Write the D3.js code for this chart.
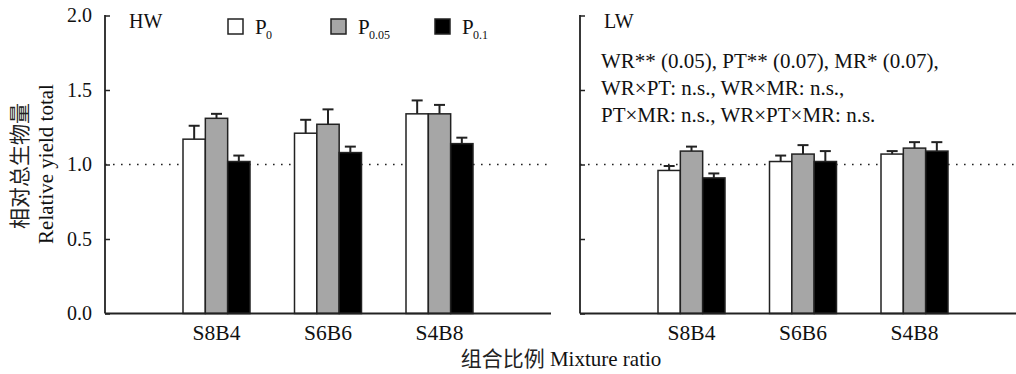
<!DOCTYPE html>
<html>
<head>
<meta charset="utf-8">
<script src="https://cdn.jsdelivr.net/npm/d3@7"></script>
<style>
  body { margin: 0; background: #fff; }
  svg { font-family: "Liberation Serif", "DejaVu Serif", serif; }
  text { font-family: "Liberation Serif", "DejaVu Serif", serif; fill: #111; }
  .cjk { font-family: "Noto Sans CJK SC", sans-serif; fill: #222; }
</style>
</head>
<body>
<div id="chart"></div>
<script>
// data
var categories = ["S8B4", "S6B6", "S4B8"];
var series = ["P0", "P0.05", "P0.1"];
var series_sub = ["0", "0.05", "0.1"];
var series_fill = ["#ffffff", "#a6a6a6", "#000000"];

// HW panel: means and upper error (one row per series)
var hw_p0 = [1.17, 1.21, 1.34],   hw_p0_err = [0.09, 0.09, 0.09];
var hw_p05 = [1.31, 1.27, 1.34],  hw_p05_err = [0.03, 0.10, 0.06];
var hw_p1 = [1.02, 1.08, 1.14],   hw_p1_err = [0.04, 0.04, 0.04];

// LW panel
var lw_p0 = [0.96, 1.02, 1.07],   lw_p0_err = [0.03, 0.04, 0.02];
var lw_p05 = [1.09, 1.07, 1.11],  lw_p05_err = [0.03, 0.06, 0.04];
var lw_p1 = [0.91, 1.02, 1.09],   lw_p1_err = [0.03, 0.07, 0.06];

var y_ticks = [0.0, 0.5, 1.0, 1.5, 2.0];
var stats_lines = [
  "WR** (0.05), PT** (0.07), MR* (0.07),",
  "WR\u00d7PT: n.s., WR\u00d7MR: n.s.,",
  "PT\u00d7MR: n.s., WR\u00d7PT\u00d7MR: n.s."
];

function to_rows(means, errs) {
  // flatten into one row per bar
  var rows = [];
  categories.forEach(function(c, i) {
    series.forEach(function(s, j) {
      rows.push({cat: c, ser: s, idx: j, val: means[j][i], err: errs[j][i]});
    });
  });
  return rows;
}

var W = 1016, H = 374;
var top_y = 15.5, bottom_y = 313.5, panel_w = 446;
var serif = "'Liberation Serif', 'DejaVu Serif', serif";

var svg = d3.select("#chart").append("svg")
  .attr("width", W).attr("height", H);

var y_scale = d3.scaleLinear().domain([0, 2]).range([bottom_y, top_y]);

function draw_panel(x0, rows, label, show_labels, dot_end) {
  var g = svg.append("g").attr("transform", "translate(" + x0 + ",0)");

  var x_scale = d3.scalePoint().domain(categories).range([0, panel_w]).padding(1);
  var x_inner = d3.scaleBand().domain(series).range([-33.5, 33.5]);

  // reference line at 1.0
  g.append("line")
    .attr("x1", 0).attr("x2", dot_end - x0)
    .attr("y1", y_scale(1)).attr("y2", y_scale(1))
    .attr("stroke", "#222").attr("stroke-width", 1.6)
    .attr("stroke-dasharray", "1.6,6.4");

  // bars
  g.selectAll("rect.bar").data(rows).enter().append("rect")
    .attr("class", "bar")
    .attr("x", function(d) { return x_scale(d.cat) + x_inner(d.ser); })
    .attr("y", function(d) { return y_scale(d.val); })
    .attr("width", x_inner.bandwidth())
    .attr("height", function(d) { return y_scale(0) - y_scale(d.val); })
    .attr("fill", function(d) { return series_fill[d.idx]; })
    .attr("stroke", "#222").attr("stroke-width", 1.5);

  // error bars (upper only)
  var eb = g.selectAll("g.err").data(rows).enter().append("g").attr("class", "err")
    .attr("transform", function(d) {
      return "translate(" + (x_scale(d.cat) + x_inner(d.ser) + x_inner.bandwidth() / 2) + ",0)";
    });
  eb.append("line")
    .attr("y1", function(d) { return y_scale(d.val); })
    .attr("y2", function(d) { return y_scale(d.val + d.err); })
    .attr("stroke", "#222").attr("stroke-width", 2);
  eb.append("line")
    .attr("x1", -5.5).attr("x2", 5.5)
    .attr("y1", function(d) { return y_scale(d.val + d.err); })
    .attr("y2", function(d) { return y_scale(d.val + d.err); })
    .attr("stroke", "#222").attr("stroke-width", 2);

  // y axis, ticks pointing inward
  var y_ax = g.append("g")
    .call(d3.axisLeft(y_scale).tickValues(y_ticks).tickSize(-5).tickPadding(13)
      .tickFormat(show_labels ? d3.format(".1f") : function() { return ""; }));
  y_ax.attr("font-family", serif).attr("font-size", 20);
  y_ax.select(".domain").remove();
  y_ax.selectAll(".tick line").attr("stroke", "#222").attr("stroke-width", 1.5);
  y_ax.selectAll(".tick text").attr("fill", "#111");
  g.append("line")
    .attr("x1", 0).attr("x2", 0).attr("y1", top_y - 0.5).attr("y2", bottom_y)
    .attr("stroke", "#222").attr("stroke-width", 1.8);

  // x axis line + category labels
  g.append("line")
    .attr("x1", 0).attr("x2", panel_w).attr("y1", bottom_y).attr("y2", bottom_y)
    .attr("stroke", "#222").attr("stroke-width", 1.8);
  g.selectAll("text.cat").data(categories).enter().append("text")
    .attr("class", "cat")
    .attr("x", function(d) { return x_scale(d); })
    .attr("y", 340)
    .attr("text-anchor", "middle")
    .style("font-size", "21.5px")
    .text(function(d) { return d; });

  // panel label
  g.append("text")
    .attr("x", 24).attr("y", 28)
    .style("font-size", "20px")
    .text(label);

  return g;
}

draw_panel(105, to_rows([hw_p0, hw_p05, hw_p1], [hw_p0_err, hw_p05_err, hw_p1_err]), "HW", true, 547);
draw_panel(580, to_rows([lw_p0, lw_p05, lw_p1], [lw_p0_err, lw_p05_err, lw_p1_err]), "LW", false, 1016);

// statistics text in LW panel
svg.selectAll("text.stats").data(stats_lines).enter().append("text")
  .attr("class", "stats")
  .attr("x", 601)
  .attr("y", function(d, i) { return 68 + i * 27; })
  .style("font-size", "21px")
  .text(function(d) { return d; });

// legend
var legend_x = [228, 331, 435];
var leg = svg.selectAll("g.leg").data(series).enter().append("g").attr("class", "leg")
  .attr("transform", function(d, i) { return "translate(" + legend_x[i] + ",19)"; });
leg.append("rect")
  .attr("width", 15).attr("height", 15)
  .attr("fill", function(d, i) { return series_fill[i]; })
  .attr("stroke", "#222").attr("stroke-width", 1.5);
leg.append("text")
  .attr("x", 27).attr("y", 15)
  .style("font-size", "21px")
  .text("P");
leg.append("text")
  .attr("x", 38).attr("y", 20)
  .style("font-size", "12px")
  .text(function(d, i) { return series_sub[i]; });

// y axis title (two lines, rotated)
svg.append("text")
  .attr("class", "cjk")
  .attr("transform", "translate(27,166) rotate(-90)")
  .attr("text-anchor", "middle")
  .style("font-size", "21px")
  .text("相对总生物量");
svg.append("text")
  .attr("transform", "translate(53,164) rotate(-90)")
  .attr("text-anchor", "middle")
  .style("font-size", "21px")
  .text("Relative yield total");

// x axis title
var xt = svg.append("text")
  .attr("x", 561).attr("y", 366)
  .attr("text-anchor", "middle")
  .style("font-size", "21px");
xt.append("tspan").attr("class", "cjk").text("组合比例");
xt.append("tspan").text(" Mixture ratio");
</script>
</body>
</html>
